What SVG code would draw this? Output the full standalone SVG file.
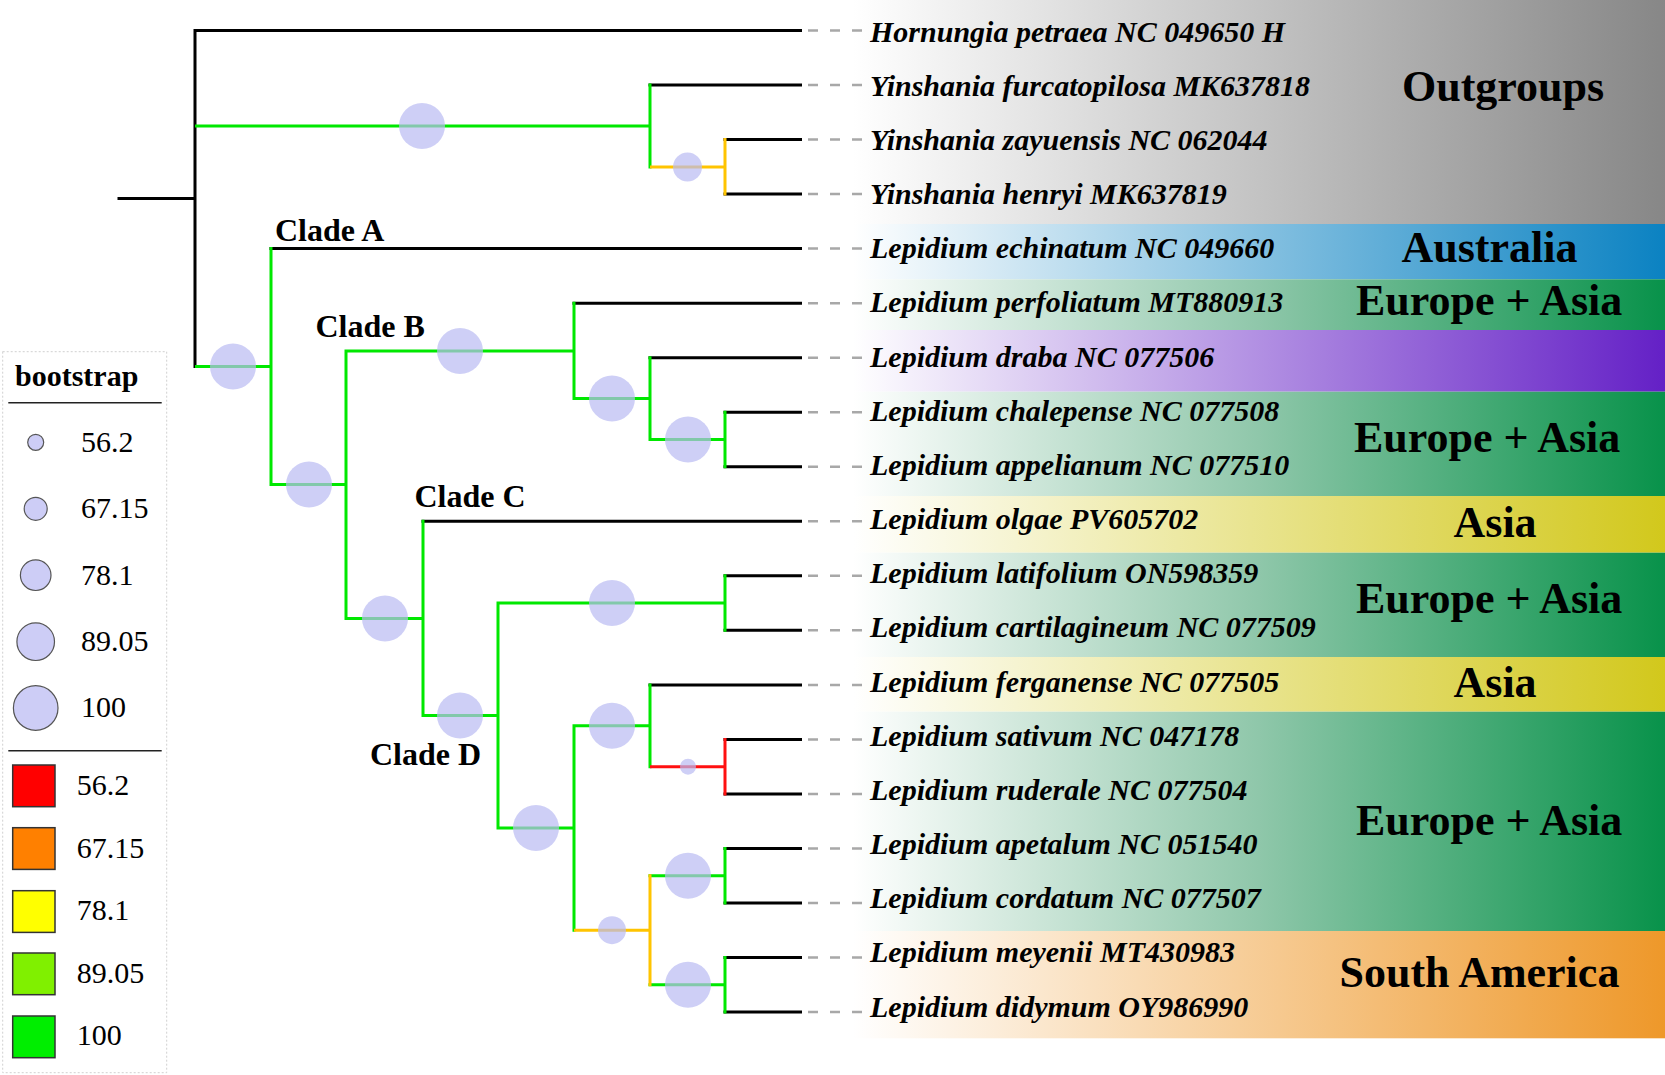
<svg xmlns="http://www.w3.org/2000/svg" width="1665" height="1075" viewBox="0 0 1665 1075">
<style>
.tip{font-family:"Liberation Serif","Times New Roman",serif;font-style:italic;font-weight:bold;font-size:30px;fill:#000}
.reg{font-family:"Liberation Serif","Times New Roman",serif;font-weight:bold;font-size:44px;fill:#000}
.clade{font-family:"Liberation Serif","Times New Roman",serif;font-weight:bold;font-size:32px;fill:#000}
.leg{font-family:"Liberation Serif","Times New Roman",serif;font-size:30px;fill:#000}
.legb{font-family:"Liberation Serif","Times New Roman",serif;font-weight:bold;font-size:30px;fill:#000}
.br{fill:none;stroke-width:3;stroke-linecap:square}
.blk{stroke:#000}
.grn{stroke:#00e800}
.org{stroke:#ffc400}
.red{stroke:#ff1010}
.dash{stroke:#a8a8a8;stroke-width:2.5;stroke-dasharray:10 12;fill:none}
.bs{fill:#b9baf2;fill-opacity:0.7}
.lc{fill:#cdcdf6;stroke:#555;stroke-width:1.2}
.sq{stroke:#333;stroke-width:1.5}
</style>
<defs>
<linearGradient id="gGray" gradientUnits="userSpaceOnUse" x1="853" y1="0" x2="1665" y2="0"><stop offset="0" stop-color="#ffffff"/><stop offset="1" stop-color="#878787"/></linearGradient>
<linearGradient id="gBlue" gradientUnits="userSpaceOnUse" x1="853" y1="0" x2="1665" y2="0"><stop offset="0" stop-color="#ffffff"/><stop offset="1" stop-color="#0b82c2"/></linearGradient>
<linearGradient id="gGreen" gradientUnits="userSpaceOnUse" x1="853" y1="0" x2="1665" y2="0"><stop offset="0" stop-color="#ffffff"/><stop offset="0.5" stop-color="#8fc7aa"/><stop offset="1" stop-color="#08924a"/></linearGradient>
<linearGradient id="gPurple" gradientUnits="userSpaceOnUse" x1="853" y1="0" x2="1665" y2="0"><stop offset="0" stop-color="#ffffff"/><stop offset="1" stop-color="#6420c6"/></linearGradient>
<linearGradient id="gYellow" gradientUnits="userSpaceOnUse" x1="853" y1="0" x2="1665" y2="0"><stop offset="0" stop-color="#ffffff"/><stop offset="1" stop-color="#d2c81c"/></linearGradient>
<linearGradient id="gOrange" gradientUnits="userSpaceOnUse" x1="853" y1="0" x2="1665" y2="0"><stop offset="0" stop-color="#ffffff"/><stop offset="1" stop-color="#ee982a"/></linearGradient>
</defs>
<rect width="1665" height="1075" fill="#fff"/>
<g id="bands">
<rect x="853" y="0" width="812" height="224" fill="url(#gGray)"/>
<rect x="853" y="224" width="812" height="55.3" fill="url(#gBlue)"/>
<rect x="853" y="279.3" width="812" height="50.7" fill="url(#gGreen)"/>
<rect x="853" y="330" width="812" height="61.7" fill="url(#gPurple)"/>
<rect x="853" y="391.7" width="812" height="104.3" fill="url(#gGreen)"/>
<rect x="853" y="496" width="812" height="56.7" fill="url(#gYellow)"/>
<rect x="853" y="552.7" width="812" height="104.3" fill="url(#gGreen)"/>
<rect x="853" y="657" width="812" height="54.7" fill="url(#gYellow)"/>
<rect x="853" y="711.7" width="812" height="219.3" fill="url(#gGreen)"/>
<rect x="853" y="931" width="812" height="107.3" fill="url(#gOrange)"/>
</g>
<g id="region-labels">
<text class="reg" x="1402" y="101">Outgroups</text>
<text class="reg" x="1401.5" y="261.7">Australia</text>
<text class="reg" x="1356" y="315">Europe + Asia</text>
<text class="reg" x="1354" y="451.7">Europe + Asia</text>
<text class="reg" x="1453.5" y="536.7">Asia</text>
<text class="reg" x="1356" y="613">Europe + Asia</text>
<text class="reg" x="1453.5" y="696.7">Asia</text>
<text class="reg" x="1356" y="835">Europe + Asia</text>
<text class="reg" x="1339.5" y="987.3">South America</text>
</g>
<g id="connectors">
<path class="dash" d="M808,30.5H863M808,85H863M808,139.6H863M808,194.1H863M808,248.6H863M808,303.2H863M808,357.7H863M808,412.2H863M808,466.7H863M808,521.3H863M808,575.8H863M808,630.3H863M808,684.9H863M808,739.4H863M808,793.9H863M808,848.5H863M808,903H863M808,957.5H863M808,1012H863"/>
<path class="br blk" d="M119,198.5H195M195,30.5V366.6M195,30.5H800.5M650,85H800.5M725,139.6H800.5M725,194.1H800.5M271,248.6H800.5M574,303.2H800.5M650,357.7H800.5M725,412.2H800.5M725,466.7H800.5M423,521.3H800.5M725,575.8H800.5M725,630.3H800.5M650,684.9H800.5M725,739.4H800.5M725,793.9H800.5M725,848.5H800.5M725,903H800.5M725,957.5H800.5M725,1012H800.5"/>
<path class="br grn" d="M196.5,125.9H650M650,85V166.9M196.5,366.6H271M271,248.6V484.6M271,484.6H346M346,350.9V618.4M346,350.9H574M574,303.2V398.6M574,398.6H650M650,357.7V439.5M650,439.5H725M725,412.2V466.7M346,618.4H423M423,521.3V715.5M423,715.5H498M498,603V828M498,603H725M725,575.8V630.3M498,828H574M574,725.8V930.2M574,725.8H650M650,684.9V766.7M650,875.7H725M725,848.5V903M650,984.8H725M725,957.5V1012"/>
<path class="br org" d="M651.5,166.9H725M725,139.6V194.1M575.5,930.2H650M650,875.7V984.8"/>
<path class="br red" d="M651.5,766.7H725M725,739.4V793.9"/>
</g>
<g id="support">
<g id="n-outgroup"><circle class="bs" cx="422" cy="125.9" r="23"/></g>
<g id="n-yinshania"><circle class="bs" cx="687.5" cy="166.9" r="14.5"/></g>
<g id="n-ingroup"><circle class="bs" cx="233" cy="366.6" r="23"/></g>
<g id="n-bcd"><circle class="bs" cx="309" cy="484.6" r="23"/></g>
<g id="n-cladeB"><circle class="bs" cx="460" cy="350.9" r="23"/></g>
<g id="n-draba"><circle class="bs" cx="612" cy="398.6" r="23"/></g>
<g id="n-chal"><circle class="bs" cx="688" cy="439.5" r="23"/></g>
<g id="n-cd"><circle class="bs" cx="385" cy="618.4" r="23"/></g>
<g id="n-cladeD"><circle class="bs" cx="460" cy="715.5" r="23"/></g>
<g id="n-lat"><circle class="bs" cx="612" cy="603" r="23"/></g>
<g id="n-d2"><circle class="bs" cx="536" cy="828" r="23"/></g>
<g id="n-ferg"><circle class="bs" cx="612" cy="725.8" r="23"/></g>
<g id="n-sat"><circle class="bs" cx="688" cy="766.7" r="8"/></g>
<g id="n-sa"><circle class="bs" cx="612" cy="930.2" r="14"/></g>
<g id="n-ape"><circle class="bs" cx="688" cy="875.7" r="23"/></g>
<g id="n-mey"><circle class="bs" cx="688" cy="984.8" r="23"/></g>
</g>
<g id="clades">
<text class="clade" x="275" y="241">Clade A</text>
<text class="clade" x="315.5" y="337">Clade B</text>
<text class="clade" x="414.5" y="506.7">Clade C</text>
<text class="clade" x="370" y="765">Clade D</text>
</g>
<g id="tips">
<g id="t0"><text class="tip" x="870" y="41.5">Hornungia petraea NC 049650 H</text></g>
<g id="t1"><text class="tip" x="870" y="95.7">Yinshania furcatopilosa MK637818</text></g>
<g id="t2"><text class="tip" x="870" y="149.8">Yinshania zayuensis NC 062044</text></g>
<g id="t3"><text class="tip" x="870" y="204">Yinshania henryi MK637819</text></g>
<g id="t4"><text class="tip" x="870" y="258.2">Lepidium echinatum NC 049660</text></g>
<g id="t5"><text class="tip" x="870" y="312.4">Lepidium perfoliatum MT880913</text></g>
<g id="t6"><text class="tip" x="870" y="366.5">Lepidium draba NC 077506</text></g>
<g id="t7"><text class="tip" x="870" y="420.7">Lepidium chalepense NC 077508</text></g>
<g id="t8"><text class="tip" x="870" y="474.9">Lepidium appelianum NC 077510</text></g>
<g id="t9"><text class="tip" x="870" y="529">Lepidium olgae PV605702</text></g>
<g id="t10"><text class="tip" x="870" y="583.2">Lepidium latifolium ON598359</text></g>
<g id="t11"><text class="tip" x="870" y="637.4">Lepidium cartilagineum NC 077509</text></g>
<g id="t12"><text class="tip" x="870" y="691.5">Lepidium ferganense NC 077505</text></g>
<g id="t13"><text class="tip" x="870" y="745.7">Lepidium sativum NC 047178</text></g>
<g id="t14"><text class="tip" x="870" y="799.9">Lepidium ruderale NC 077504</text></g>
<g id="t15"><text class="tip" x="870" y="854">Lepidium apetalum NC 051540</text></g>
<g id="t16"><text class="tip" x="870" y="908.2">Lepidium cordatum NC 077507</text></g>
<g id="t17"><text class="tip" x="870" y="962.4">Lepidium meyenii MT430983</text></g>
<g id="t18"><text class="tip" x="870" y="1016.6">Lepidium didymum OY986990</text></g>
</g>
<g id="legend">
<rect x="2.7" y="351.7" width="164" height="721" fill="#fff" stroke="#d0d0d0" stroke-width="1" stroke-dasharray="2 2"/>
<text class="legb" x="15" y="385.7">bootstrap</text>
<line x1="8.3" y1="402.7" x2="161.7" y2="402.7" stroke="#222" stroke-width="1.5"/>
<circle class="lc" cx="35.7" cy="442.3" r="8"/>
<text class="leg" x="81" y="451.7">56.2</text>
<circle class="lc" cx="35.7" cy="508.8" r="11.5"/>
<text class="leg" x="81" y="518">67.15</text>
<circle class="lc" cx="35.7" cy="575.2" r="15.3"/>
<text class="leg" x="81" y="584.5">78.1</text>
<circle class="lc" cx="35.7" cy="641.7" r="18.8"/>
<text class="leg" x="81" y="651">89.05</text>
<circle class="lc" cx="35.7" cy="708" r="22.3"/>
<text class="leg" x="81" y="717.3">100</text>
<line x1="8.3" y1="750.7" x2="161.7" y2="750.7" stroke="#222" stroke-width="1.5"/>
<rect class="sq" x="12.7" y="765" width="42.3" height="41.7" fill="#ff0000"/>
<text class="leg" x="76.7" y="795">56.2</text>
<rect class="sq" x="12.7" y="827.7" width="42.3" height="41.7" fill="#ff8000"/>
<text class="leg" x="76.7" y="857.8">67.15</text>
<rect class="sq" x="12.7" y="890.7" width="42.3" height="41.7" fill="#ffff00"/>
<text class="leg" x="76.7" y="920">78.1</text>
<rect class="sq" x="12.7" y="953" width="42.3" height="41.7" fill="#80f000"/>
<text class="leg" x="76.7" y="982.6">89.05</text>
<rect class="sq" x="12.7" y="1016" width="42.3" height="41.7" fill="#00ee00"/>
<text class="leg" x="76.7" y="1045">100</text>
</g>
</svg>
